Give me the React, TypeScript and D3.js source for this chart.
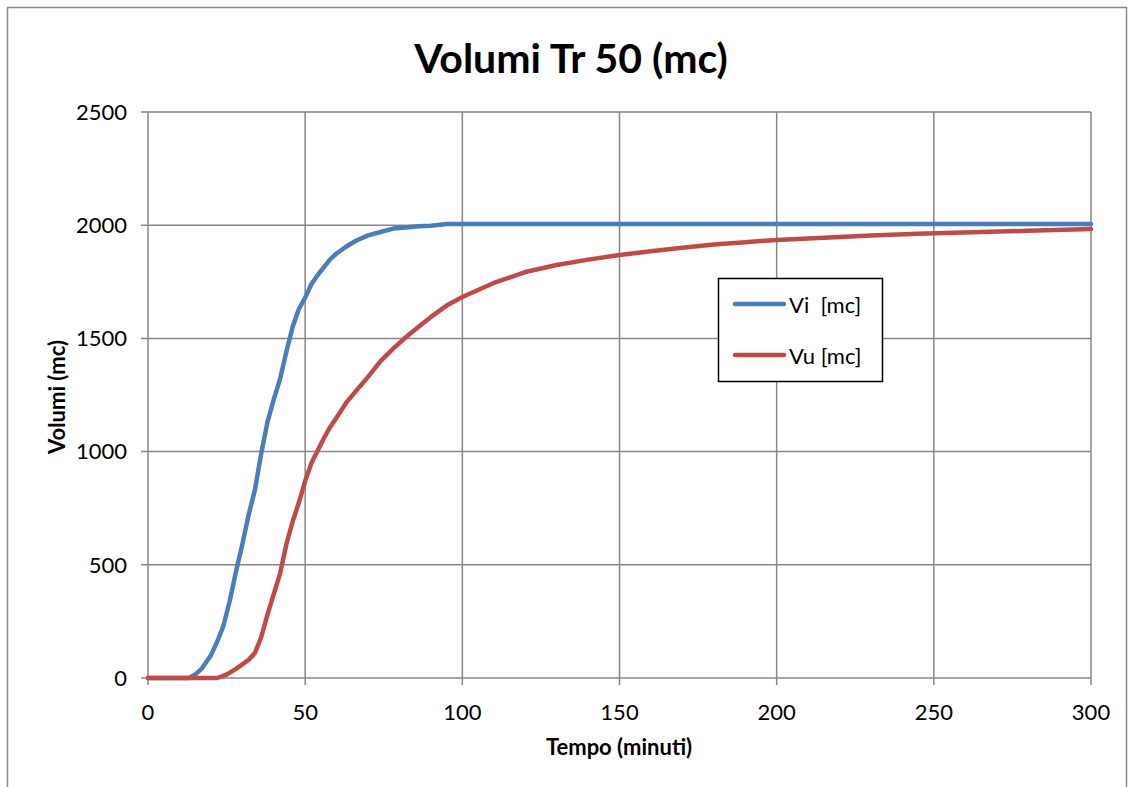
import React from "react";
import * as d3 from "d3";

const viTime = [0, 10, 13, 15, 17, 20, 22, 24, 26, 28, 30, 32, 34, 36, 38, 40, 42, 44, 46, 48, 50, 52, 54, 56, 58, 60, 63, 66, 70, 74, 78, 82, 86, 90, 95, 100, 150, 200, 250, 300];
const viValues = [0, 0, 0, 15, 40, 100, 160, 230, 340, 470, 590, 720, 830, 990, 1130, 1230, 1320, 1440, 1550, 1630, 1680, 1740, 1780, 1815, 1850, 1875, 1905, 1930, 1955, 1970, 1985, 1990, 1995, 1998, 2005, 2005, 2005, 2005, 2005, 2005];

const vuTime = [0, 20, 22, 25, 28, 30, 32, 34, 36, 38, 40, 42, 44, 46, 48, 50, 52, 54, 56, 58, 60, 63, 66, 70, 74, 78, 82, 86, 90, 95, 100, 110, 120, 130, 140, 150, 160, 170, 180, 190, 200, 215, 230, 245, 265, 280, 300];
const vuValues = [0, 0, 0, 15, 40, 60, 80, 110, 180, 280, 370, 460, 590, 690, 775, 870, 950, 1005, 1060, 1110, 1150, 1215, 1265, 1330, 1400, 1455, 1505, 1550, 1595, 1645, 1683, 1745, 1793, 1824, 1848, 1868, 1885, 1900, 1915, 1925, 1935, 1945, 1955, 1962, 1970, 1975, 1983];

const xTicks = [0, 50, 100, 150, 200, 250, 300];
const yTicks = [0, 500, 1000, 1500, 2000, 2500];

const seriesNames = ["Vi  [mc]", "Vu [mc]"];
const colors = ["#4a7ebb", "#be4b48"];

export default function App() {
  const x = d3.scaleLinear().domain([0, 300]).range([148, 1091]);
  const y = d3.scaleLinear().domain([0, 2500]).range([678, 112]);
  const line = d3
    .line<[number, number]>()
    .x((d) => x(d[0]))
    .y((d) => y(d[1]));
  const viPts = viTime.map((t, i) => [t, viValues[i]] as [number, number]);
  const vuPts = vuTime.map((t, i) => [t, vuValues[i]] as [number, number]);
  const grid = "#878787";
  const font = "Lato, 'Open Sans', sans-serif";
  return (
    <svg
      width={1128}
      height={787}
      style={{ position: "absolute", left: 0, top: 0, background: "#fff" }}
      fontFamily={font}
    >
      <rect x={7.5} y={7.5} width={1119} height={800} fill="#fff" stroke="#898989" strokeWidth={1.5} />
      <text x={571} y={73} textAnchor="middle" fontSize={41} fontWeight="bold" fill="#000">
        Volumi Tr 50 (mc)
      </text>
      {yTicks.map((v) => (
        <g key={"y" + v}>
          <line x1={141} x2={1091} y1={y(v)} y2={y(v)} stroke={grid} strokeWidth={1.5} />
          <text x={127} y={y(v)} dy="0.35em" textAnchor="end" fontSize={22} fill="#000">
            {v}
          </text>
        </g>
      ))}
      {xTicks.map((v) => (
        <g key={"x" + v}>
          <line x1={x(v)} x2={x(v)} y1={112} y2={685} stroke={grid} strokeWidth={1.5} />
          <text x={x(v)} y={712} dy="0.35em" textAnchor="middle" fontSize={22} fill="#000">
            {v}
          </text>
        </g>
      ))}
      <path d={line(viPts) || ""} fill="none" stroke={colors[0]} strokeWidth={4.5} strokeLinejoin="round" strokeLinecap="round" />
      <path d={line(vuPts) || ""} fill="none" stroke={colors[1]} strokeWidth={4.5} strokeLinejoin="round" strokeLinecap="round" />
      <text x={619} y={755} textAnchor="middle" fontSize={22} fontWeight="bold" fill="#000">
        Tempo (minuti)
      </text>
      <text
        transform="translate(57,397) rotate(-90)"
        textAnchor="middle"
        dy="0.35em"
        fontSize={22}
        fontWeight="bold"
        fill="#000"
      >
        Volumi (mc)
      </text>
      <rect x={718.5} y={278.5} width={164} height={103} fill="#fff" stroke="#000" strokeWidth={1.5} />
      {seriesNames.map((name, i) => (
        <g key={name}>
          <line x1={735} x2={784} y1={304 + i * 51} y2={304 + i * 51} stroke={colors[i]} strokeWidth={4.5} strokeLinecap="round" />
          <text x={789} y={305 + i * 51} dy="0.35em" fontSize={22} fill="#000" style={{ whiteSpace: "pre" }}>
            {name}
          </text>
        </g>
      ))}
    </svg>
  );
}
